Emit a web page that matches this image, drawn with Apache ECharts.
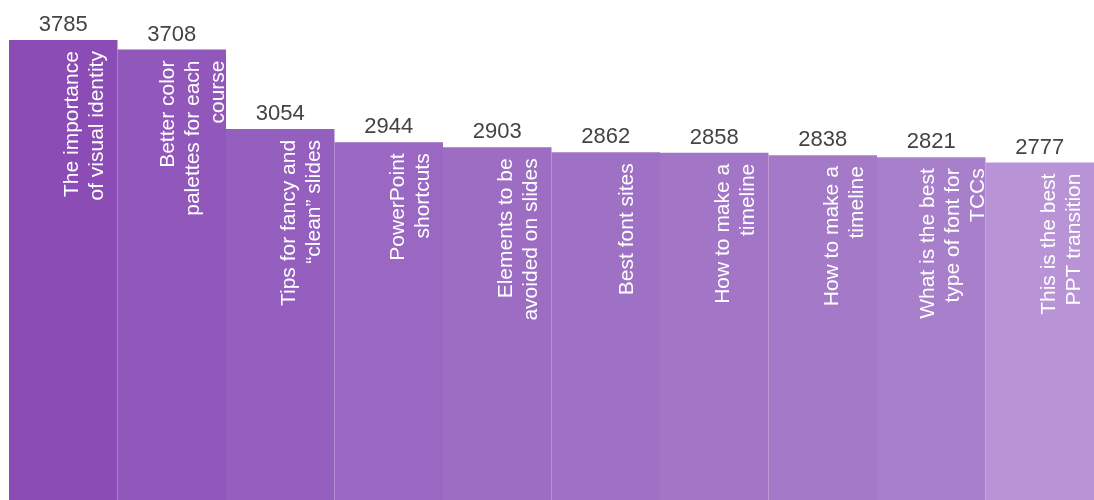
<!DOCTYPE html>
<html>
<head>
<meta charset="utf-8">
<script src="https://cdn.jsdelivr.net/npm/echarts@6/dist/echarts.min.js"></script>
<style>
  html, body { margin: 0; padding: 0; background: #ffffff; }
  #chart { width: 1094px; height: 500px; }
</style>
</head>
<body>
<div id="chart"></div>
<script>
const categories = [
  "The importance\nof visual identity",
  "Better color\npalettes for each\ncourse",
  "Tips for fancy and\n\u201cclean\u201d slides",
  "PowerPoint\nshortcuts",
  "Elements to be\navoided on slides",
  "Best font sites",
  "How to make a\ntimeline",
  "How to make a\ntimeline",
  "What is the best\ntype of font for\nTCCs",
  "This is the best\nPPT transition"
];
const values = [3785, 3708, 3054, 2944, 2903, 2862, 2858, 2838, 2821, 2777];
const barColors = [
  "#8B4CB6", "#9257BB", "#955FC0", "#9A67C3", "#9D6DC4",
  "#9F71C5", "#A275C6", "#A47AC8", "#A87FCA", "#B894D6"
];

const chart = echarts.init(document.getElementById('chart'), null, { renderer: 'canvas' });
const FONT = '"Liberation Sans", Arial, Helvetica, sans-serif';

chart.setOption({
  animation: false,
  backgroundColor: '#ffffff',
  grid: { left: 9, right: 0, top: 14, bottom: 0, containLabel: false },
  xAxis: {
    type: 'category',
    data: categories,
    show: false
  },
  yAxis: {
    type: 'value',
    min: 0,
    max: 4000,
    show: false,
    splitLine: { show: false }
  },
  series: [
    {
      type: 'bar',
      data: values,
      barCategoryGap: 0,
      barGap: '-100%',
      itemStyle: {
        color: function (p) { return barColors[p.dataIndex]; }
      },
      label: {
        show: true,
        position: ['70%', 11],
        rotate: 90,
        align: 'right',
        verticalAlign: 'middle',
        color: '#ffffff',
        fontFamily: FONT,
        fontSize: 21,
        lineHeight: 25,
        formatter: function (p) { return categories[p.dataIndex]; }
      }
    },
    {
      type: 'bar',
      data: values,
      barCategoryGap: 0,
      barGap: '-100%',
      itemStyle: { color: 'rgba(0,0,0,0)' },
      silent: true,
      label: {
        show: true,
        position: 'top',
        distance: 4,
        color: '#444444',
        fontFamily: FONT,
        fontSize: 22,
        formatter: function (p) { return String(values[p.dataIndex]); }
      }
    }
  ]
});
</script>
</body>
</html>
